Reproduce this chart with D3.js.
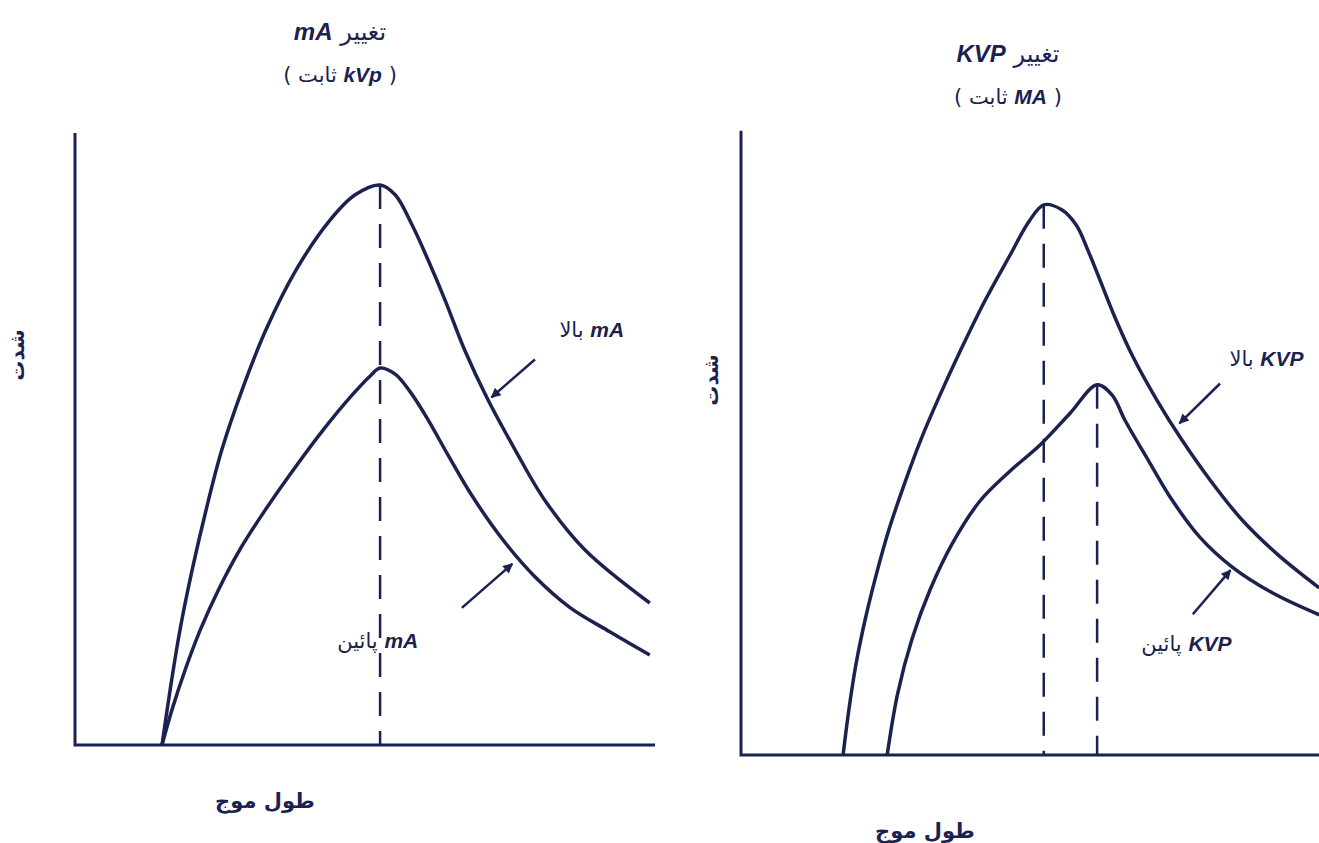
<!DOCTYPE html>
<html>
<head>
<meta charset="utf-8">
<script src="https://cdn.jsdelivr.net/npm/d3@7"></script>
<style>
  html, body { margin: 0; padding: 0; background: #fff; }
  svg { display: block; }
</style>
</head>
<body>
<div id="chart"></div>
<script>
// Data (wavelength, intensity) in relative units 0-100
const mAHigh = [[15,0],[16.4,9.0],[18.1,18.8],[20.2,28.6],[22.6,38.4],[25.3,48.2],[28.8,58.0],
  [32.9,67.8],[38.1,77.6],[44.0,85.8],[48.3,89.9],[52.6,91.5],[55.2,89.9],[58.1,85.0],
  [60.9,79.2],[63.8,72.7],[67.2,64.5],[71.2,56.4],[75.9,48.2],[81.0,40.0],[87.9,31.9],[99.1,23.2]];
const mALow = [[15,0],[16.7,5.7],[19.0,12.3],[21.6,18.8],[24.7,25.3],[28.4,31.9],[32.8,38.4],
  [37.6,44.9],[42.8,51.5],[47.8,57.2],[50.9,60.3],[52.6,61.6],[55.2,60.6],[57.8,57.7],
  [60.9,53.1],[64.3,47.4],[68.4,40.8],[73.8,33.5],[79.3,27.5],[85.3,22.5],[92.2,18.5],[99.1,14.7]];
const kvpHigh = [[17.6,0],[18.6,7.4],[19.8,14.7],[21.4,22.1],[23.3,29.4],[25.5,36.8],[28.1,44.1],
  [31.0,51.5],[34.3,58.8],[37.9,66.2],[42.1,74.3],[46.4,81.7],[49.6,87.1],[52.2,89.9],
  [55.3,89.1],[57.8,86.6],[59.8,82.5],[61.9,77.6],[64.3,71.9],[67.4,65.4],[71.7,58.0],
  [76.0,51.5],[80.9,44.9],[86.4,38.4],[92.6,32.7],[99.7,27.3]];
const kvpLow = [[25.2,0],[27.0,10.0],[29.5,19.0],[32.6,27.0],[36.4,34.5],[41.2,41.5],[46.4,46.4],
  [51.6,50.7],[56.7,55.8],[61.4,60.5],[64.0,58.8],[66.2,54.7],[70.2,48.2],[74.3,41.7],
  [79.1,35.6],[84.7,30.7],[91.6,26.5],[99.7,22.9]];

const titles = ["تغییر mA", "تغییر KVP"];
const subtitles = ["( kVp ثابت )", "( MA ثابت )"];
const yLabel = "شدت";
const xLabel = "طول موج";
const seriesLabels = [["mA بالا", "mA پائین"], ["KVP بالا", "KVP پائین"]];

const W = 1319, H = 843;
const ink = "#1b2250";

const svg = d3.select("#chart").append("svg")
  .attr("width", W).attr("height", H)
  .attr("viewBox", `0 0 ${W} ${H}`);

svg.append("rect").attr("width", W).attr("height", H).attr("fill", "#fff");

const defs = svg.append("defs");
defs.append("marker")
  .attr("id", "arrow")
  .attr("viewBox", "0 0 10 10")
  .attr("refX", 9).attr("refY", 5)
  .attr("markerWidth", 15).attr("markerHeight", 10)
  .attr("markerUnits", "userSpaceOnUse")
  .attr("orient", "auto")
  .append("path")
    .attr("d", "M0,0 L10,5 L0,10 z")
    .attr("fill", ink);

// panel layout
const panels = [
  {
    left: 75, right: 655, base: 745, top: 133, axisTop: 100,
    series: [mAHigh, mALow],
    title: [340, 40], subtitle: [340, 82],
    xLab: [265, 808], yLab: [18, 355],
    // annotation: label pos, arrow from, arrow to (data units)
    notes: [
      { label: [89.1, 66.6], from: [79.3, 63.0], to: [71.8, 56.8] },
      { label: [52.2, 15.8], from: [66.7, 22.4], to: [75.4, 29.6] }
    ]
  },
  {
    left: 741, right: 1321, base: 755, top: 143, axisTop: 102,
    series: [kvpHigh, kvpLow],
    title: [1008, 62], subtitle: [1008, 104],
    xLab: [925, 838], yLab: [712, 380],
    notes: [
      { label: [90.6, 63.5], from: [82.6, 60.7], to: [75.6, 54.2] },
      { label: [76.8, 17.0], from: [77.9, 23.0], to: [84.4, 30.2] }
    ]
  }
];

// write mixed Persian / Latin text, Latin part bold italic
function mixedText(g, str, x, y, size) {
  const t = g.append("text")
    .attr("x", x).attr("y", y)
    .attr("direction", "rtl")
    .attr("text-anchor", "middle")
    .attr("fill", ink)
    .style("font-size", size + "px");
  str.split(/([A-Za-z]+)/).filter(s => s.length).forEach(part => {
    const latin = /[A-Za-z]/.test(part);
    t.append("tspan")
      .text(part)
      .style("font-family", latin ? "'Liberation Sans', Arial, sans-serif" : "'DejaVu Sans', sans-serif")
      .style("font-weight", latin ? "bold" : "normal")
      .style("font-style", latin ? "italic" : "normal");
  });
  return t;
}

panels.forEach((p, i) => {
  const x = d3.scaleLinear().domain([0, 100]).range([p.left, p.right]);
  const y = d3.scaleLinear().domain([0, 100]).range([p.base, p.top]);
  const g = svg.append("g");

  // axes
  g.append("path")
    .attr("d", `M${x(0)},${y(p.axisTop)} L${x(0)},${y(0)} L${x(100)},${y(0)}`)
    .attr("fill", "none")
    .attr("stroke", ink)
    .attr("stroke-width", 3);

  const line = d3.line()
    .x(d => x(d[0]))
    .y(d => y(d[1]))
    .curve(d3.curveCatmullRom.alpha(0.5));

  // dashed lines at peaks
  const peaks = i === 0 ? [d3.greatest(p.series[0], d => d[1])]
                        : p.series.map(s => d3.greatest(s, d => d[1]));
  g.selectAll(".peak")
    .data(peaks)
    .join("line")
    .attr("class", "peak")
    .attr("x1", d => x(d[0])).attr("x2", d => x(d[0]))
    .attr("y1", d => y(d[1])).attr("y2", y(0))
    .attr("stroke", ink)
    .attr("stroke-width", 2.5)
    .attr("stroke-dasharray", "24,15");

  g.selectAll(".curve")
    .data(p.series)
    .join("path")
    .attr("class", "curve")
    .attr("d", line)
    .attr("fill", "none")
    .attr("stroke", ink)
    .attr("stroke-width", 3.5)
    .attr("stroke-linejoin", "round");

  // arrows + labels
  p.notes.forEach((n, j) => {
    g.append("line")
      .attr("x1", x(n.from[0])).attr("y1", y(n.from[1]))
      .attr("x2", x(n.to[0])).attr("y2", y(n.to[1]))
      .attr("stroke", ink)
      .attr("stroke-width", 2.5)
      .attr("marker-end", "url(#arrow)");
    mixedText(g, seriesLabels[i][j], x(n.label[0]), y(n.label[1]), 21);
  });

  mixedText(g, titles[i], p.title[0], p.title[1], 24);
  mixedText(g, subtitles[i], p.subtitle[0], p.subtitle[1], 21);

  g.append("text")
    .attr("x", p.xLab[0]).attr("y", p.xLab[1])
    .attr("direction", "rtl")
    .attr("text-anchor", "middle")
    .attr("fill", ink)
    .style("font-family", "'DejaVu Sans', sans-serif")
    .style("font-size", "21px")
    .style("font-weight", "bold")
    .text(xLabel);

  g.append("text")
    .attr("transform", `translate(${p.yLab[0]},${p.yLab[1]}) rotate(-90)`)
    .attr("direction", "rtl")
    .attr("text-anchor", "middle")
    .attr("dominant-baseline", "middle")
    .attr("fill", ink)
    .style("font-family", "'DejaVu Sans', sans-serif")
    .style("font-size", "20px")
    .style("font-weight", "bold")
    .text(yLabel);
});
</script>
</body>
</html>
